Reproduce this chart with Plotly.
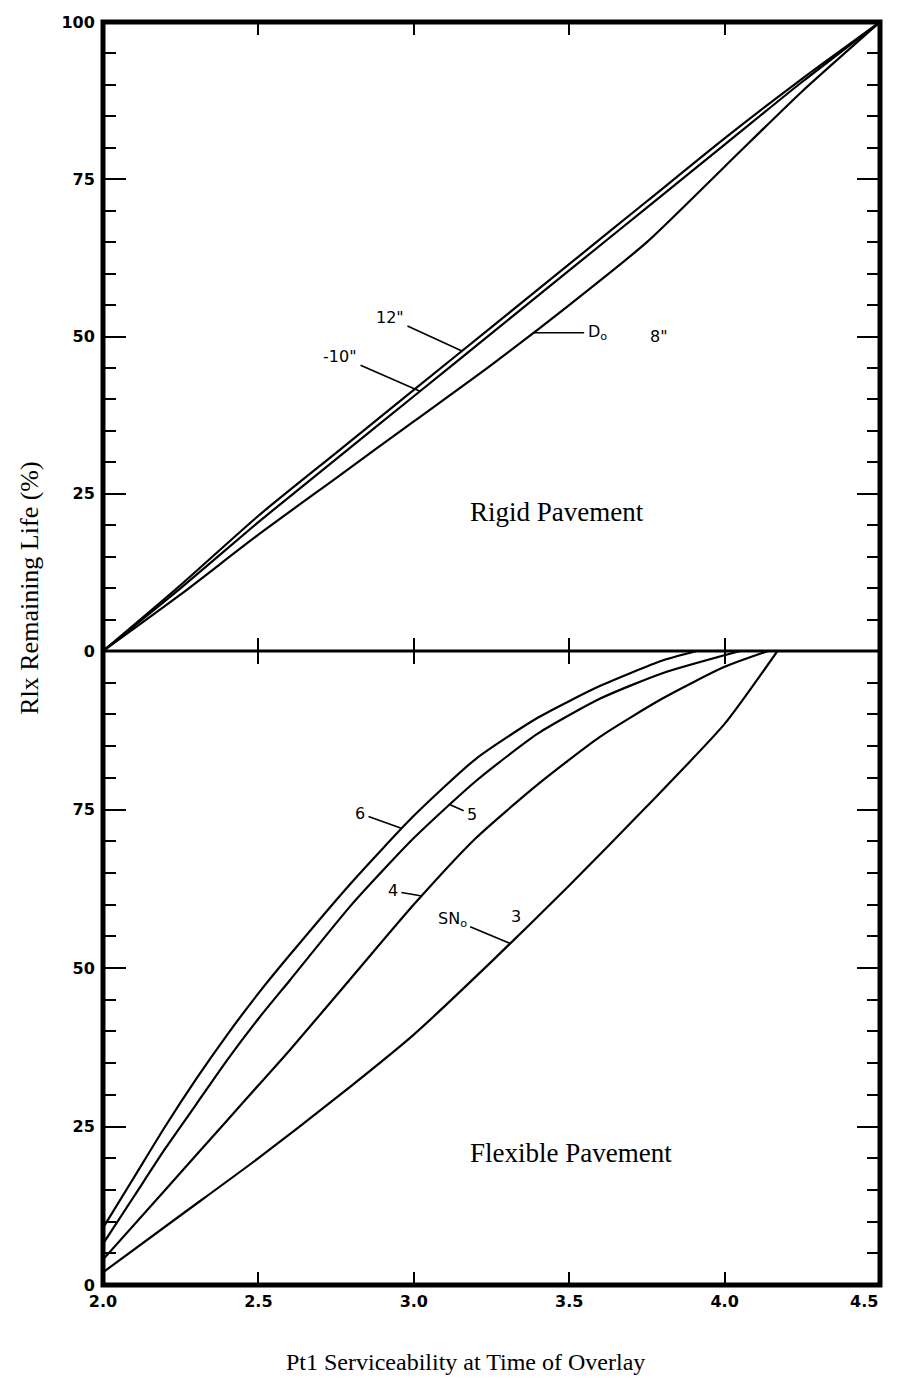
import numpy as np
import plotly.graph_objects as go

# ---------------- data ----------------
# Rigid pavement (top panel), slab thickness D0
rigid_x = [2.0, 2.25, 2.5, 2.75, 3.0, 3.25, 3.5, 3.75, 4.0, 4.25, 4.5]
rigid_12in = [0, 10.5, 21.5, 31.5, 41.5, 51.5, 61.5, 71.5, 81.5, 91, 100]
rigid_10in = [0, 10, 20.5, 30.5, 40.5, 50.5, 60.5, 70.5, 80.5, 90.5, 100]
rigid_8in = [0, 9, 18.5, 27.5, 36.5, 45.5, 55, 65, 77, 89, 100]

# Flexible pavement (bottom panel), structural number SN0
flex6_x = [2.0, 2.1, 2.2, 2.3, 2.4, 2.5, 2.6, 2.8, 3.0, 3.2, 3.4, 3.6, 3.8, 3.91]
flex6_y = [9, 17, 25, 32.5, 39.5, 46, 52, 63.5, 74, 83, 89.5, 94.5, 98.5, 100]
flex5_x = [2.0, 2.1, 2.2, 2.3, 2.4, 2.5, 2.6, 2.8, 3.0, 3.2, 3.4, 3.6, 3.8, 4.05]
flex5_y = [6.5, 14, 21.5, 28.5, 35.5, 42, 48, 60, 70.5, 79.5, 87, 92.5, 96.5, 100]
flex4_x = [2.0, 2.2, 2.4, 2.5, 2.6, 2.8, 3.0, 3.2, 3.4, 3.6, 3.8, 4.0, 4.14]
flex4_y = [4, 15, 26, 31.5, 37, 48.5, 60, 70.5, 79, 86.5, 92.5, 97.5, 100]
flex3_x = [2.0, 2.25, 2.5, 2.75, 3.0, 3.25, 3.5, 3.75, 4.0, 4.17]
flex3_y = [2, 11, 20, 29.5, 39.5, 51, 63, 75.5, 88.5, 100]

x_ticks = [2.0, 2.5, 3.0, 3.5, 4.0, 4.5]
x_ticktext = ["2.0", "2.5", "3.0", "3.5", "4.0", ""]
x_last_label = "4.5"
y_ticks = [0, 25, 50, 75, 100]
y_top_text = ["0", "25", "50", "75", "100"]
y_bot_text = ["0", "25", "50", "75", ""]

# ---------------- figure ----------------
# the page body adds an 8 px margin; the figure is sized to fit inside the
# window and its margins place the plot box at x 103..880, y 22..1285
W, H = 889, 1374
m_l, m_r, m_t, m_b = 95, 17, 14, 97
split = (1285 - 651) / (1285 - 22)

fig = go.Figure()
line = dict(color="black", width=2.2, shape="spline", smoothing=0.6)

for yy in (rigid_12in, rigid_10in, rigid_8in):
    fig.add_trace(go.Scatter(x=rigid_x, y=yy, mode="lines", line=line,
                             xaxis="x", yaxis="y", showlegend=False, hoverinfo="skip"))
for xx, yy in ((flex6_x, flex6_y), (flex5_x, flex5_y), (flex4_x, flex4_y), (flex3_x, flex3_y)):
    fig.add_trace(go.Scatter(x=xx, y=yy, mode="lines", line=line,
                             xaxis="x2", yaxis="y2", showlegend=False, hoverinfo="skip"))

tickfont = dict(family="DejaVu Sans", size=16, color="black", weight="bold")
common_x = dict(range=[2.0, 4.5], tickvals=x_ticks, ticktext=x_ticktext,
                showline=True, linewidth=1, linecolor="black", mirror="ticks",
                ticks="inside", ticklen=13, tickwidth=2, tickcolor="black",
                showgrid=False, zeroline=False, tickfont=tickfont, automargin=False,
                ticklabeloverflow="allow")
common_y = dict(range=[0, 100], tickvals=y_ticks,
                showline=True, linewidth=1, linecolor="black", mirror="ticks",
                ticks="inside", ticklen=23, tickwidth=2, tickcolor="black",
                minor=dict(ticks="inside", dtick=5, ticklen=13, tickwidth=2, tickcolor="black",
                           showgrid=False),
                showgrid=False, zeroline=False, tickfont=tickfont, automargin=False,
                ticklabelstandoff=4, ticklabeloverflow="allow")

fig.update_layout(
    width=W, height=H,
    margin=dict(l=m_l, r=m_r, t=m_t, b=m_b),
    paper_bgcolor="white", plot_bgcolor="white",
    xaxis=dict(common_x, anchor="y", domain=[0, 1], showticklabels=False),
    yaxis=dict(common_y, anchor="x", domain=[split, 1], ticktext=y_top_text),
    xaxis2=dict(common_x, anchor="y2", domain=[0, 1], ticklabelstandoff=2),
    yaxis2=dict(common_y, anchor="x2", domain=[0, split], ticktext=y_bot_text),
)

# heavy outer frame and the dividing line between the two panels
fig.add_shape(type="rect", xref="paper", yref="paper", x0=0, x1=1, y0=0, y1=1,
              line=dict(color="black", width=5), layer="above")
fig.add_shape(type="line", xref="paper", yref="paper", x0=0, x1=1, y0=split, y1=split,
              line=dict(color="black", width=3), layer="above")

serif_title = dict(family="Liberation Serif", size=24, color="black")
serif_ytitle = dict(family="Liberation Serif", size=26, color="black")
serif_panel = dict(family="Liberation Serif", size=27, color="black")
letter = dict(family="DejaVu Sans", size=16, color="black")

ann = []
# last x tick label, right-aligned at the frame so it stays inside the window
ann.append(dict(text=x_last_label, xref="paper", yref="paper", x=1.0, y=-0.0127,
                xanchor="right", yanchor="middle", showarrow=False, font=tickfont))
# axis titles
ann.append(dict(text="Rlx Remaining Life (%)", xref="paper", yref="paper",
                x=-0.094, y=0.552, textangle=-90, showarrow=False, font=serif_ytitle,
                xanchor="center", yanchor="middle"))
ann.append(dict(text="Pt1 Serviceability at Time of Overlay", xref="paper", yref="paper",
                x=0.466, y=-0.061, showarrow=False, font=serif_title,
                xanchor="center", yanchor="middle"))
# panel titles
ann.append(dict(text="Rigid Pavement", xref="x", yref="y", x=3.46, y=22.1,
                showarrow=False, font=serif_panel))
ann.append(dict(text="Flexible Pavement", xref="x2", yref="y2", x=3.506, y=20.8,
                showarrow=False, font=serif_panel))

def leader(text, xref, yref, xs, ys, xp, ax, ay):
    yp = float(np.interp(xp, xs, ys))
    return dict(text=text, xref=xref, yref=yref, x=xp, y=yp, ax=ax, ay=ay,
                showarrow=True, arrowhead=0, arrowwidth=1.6, arrowcolor="black",
                font=letter, borderpad=3)

ann.append(leader('12"', "x", "y", rigid_x, rigid_12in, 3.155, -72, -33))
ann.append(leader('-10"', "x", "y", rigid_x, rigid_10in, 3.02, -80, -35))
ann.append(leader("D<sub>o</sub>", "x", "y", rigid_x, rigid_8in, 3.384, 64, 0))
ann.append(dict(text='8"', xref="x", yref="y", x=3.79, y=float(np.interp(3.384, rigid_x, rigid_8in)) - 0.6,
                showarrow=False, font=letter))

ann.append(leader("6", "x2", "y2", flex6_x, flex6_y, 2.962, -42, -15))
ann.append(leader("5", "x2", "y2", flex5_x, flex5_y, 3.117, 22, 10))
ann.append(leader("4", "x2", "y2", flex4_x, flex4_y, 3.026, -29, -5))
ann.append(leader("SN<sub>o</sub>", "x2", "y2", flex3_x, flex3_y, 3.31, -58, -24))
ann.append(dict(text="3", xref="x2", yref="y2", x=3.33,
                y=float(np.interp(3.31, flex3_x, flex3_y)) + 4.3,
                showarrow=False, font=letter))

fig.update_layout(annotations=ann)
fig.write_html("out.html")
